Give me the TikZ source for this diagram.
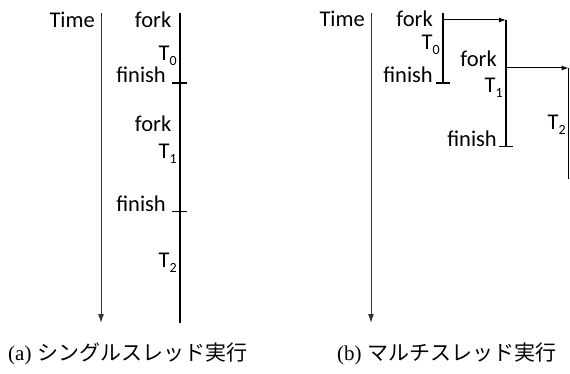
\documentclass[tikz,border=0pt]{standalone}
\usepackage{fontspec}
\setmainfont{Carlito}
\newfontfamily\capfont{Liberation Serif}
\newfontfamily\cjk{Noto Sans CJK JP}
\usetikzlibrary{arrows.meta}
\newcommand\mysub[1]{\raisebox{-5pt}{\fontsize{14}{14}\selectfont #1}}
\begin{document}
\begin{tikzpicture}[x=1pt,y=-1pt,
  lbl/.style={font=\fontsize{22.5}{24}\selectfont, inner sep=0pt, anchor=base east},
  captext/.style={font=\fontsize{21}{24}\selectfont, inner sep=0pt, anchor=base west},
  axis/.style={line width=1pt, draw=black!80, -{Latex[length=9pt,width=6pt]}},
  thread/.style={line width=1.8pt},
  forkarrow/.style={line width=1pt, -{Latex[length=7pt,width=5pt]}},
  tickline/.style={line width=1.5pt}]
\useasboundingbox (0,0) rectangle (570,374);

% ---------- (a) single thread ----------
\coordinate (la1) at (101,13); \coordinate (la2) at (101,323);
\draw[axis] (la1) -- (la2);
\coordinate (lt1) at (180,13); \coordinate (lt2) at (180,323);
\draw[thread] (lt1) -- (lt2);
\coordinate (lk1a) at (172,83);  \coordinate (lk1b) at (187,83);
\coordinate (lk2a) at (172,211.5); \coordinate (lk2b) at (187,211.5);
\draw[tickline] (lk1a) -- (lk1b);
\draw[tickline] (lk2a) -- (lk2b);

\node[lbl] (ltime) at (95,27.5) {Time};
\node[lbl] (lfork1) at (171.5,27.5) {fork};
\node[lbl] (lT0) at (177,61) {T\mysub{0}};
\node[lbl] (lfin1) at (166,83) {finish};
\node[lbl] (lfork2) at (171.5,131.5) {fork};
\node[lbl] (lT1) at (177,158.5) {T\mysub{1}};
\node[lbl] (lfin2) at (166,211.5) {finish};
\node[lbl] (lT2) at (177,267) {T\mysub{2}};

% ---------- (b) multi thread ----------
\coordinate (ra1) at (371,13); \coordinate (ra2) at (371,323);
\draw[axis] (ra1) -- (ra2);

\coordinate (t0top) at (443,13); \coordinate (t0bot) at (443,83);
\coordinate (t0fork) at (443,20);
\draw[thread] (t0top) -- (t0bot);
\coordinate (k0a) at (436,83); \coordinate (k0b) at (450,83);
\draw[tickline] (k0a) -- (k0b);

\coordinate (t1top) at (506,20); \coordinate (t1bot) at (506,146.5);
\coordinate (t1fork) at (506,68);
\draw[forkarrow] (t0fork) -- (t1top);
\draw[thread] (t1top) -- (t1bot);
\coordinate (k1a) at (499,146.5); \coordinate (k1b) at (513,146.5);
\draw[tickline] (k1a) -- (k1b);

\coordinate (t2top) at (568.5,68); \coordinate (t2bot) at (568.5,179);
\draw[forkarrow] (t1fork) -- (t2top);
\draw[thread] (t2top) -- (t2bot);

\node[lbl] (rtime) at (365,27) {Time};
\node[lbl] (rfork1) at (433,27) {fork};
\node[lbl] (rT0) at (440,50) {T\mysub{0}};
\node[lbl] (rfin1) at (433,83) {finish};
\node[lbl] (rfork2) at (497,67) {fork};
\node[lbl] (rT1) at (503,93) {T\mysub{1}};
\node[lbl] (rfin2) at (497,146.5) {finish};
\node[lbl] (rT2) at (566,130) {T\mysub{2}};

% ---------- captions ----------
\node[captext] (capa) at (8,360) {{\capfont (a)}\hspace{6pt}{\cjk シングルスレッド実行}};
\node[captext] (capb) at (337,360) {{\capfont (b)}\hspace{6pt}{\cjk マルチスレッド実行}};
\end{tikzpicture}
\end{document}
